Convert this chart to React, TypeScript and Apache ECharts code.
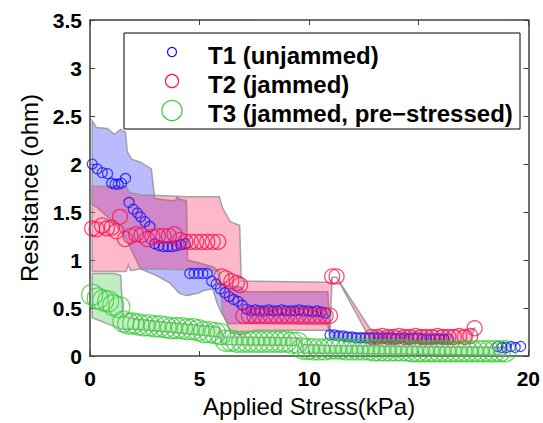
import React, { useEffect, useRef } from "react";
import * as echarts from "echarts";

// [stress kPa, resistance ohm]
const t1Points: number[][] = [
  [0.1, 2.0], [0.33, 1.95], [0.56, 1.91], [0.8, 1.9], [0.99, 1.8], [1.14, 1.79], [1.29, 1.79], [1.44, 1.8],
  [1.62, 1.85], [1.78, 1.6], [1.97, 1.53], [2.16, 1.49], [2.31, 1.45], [2.51, 1.4], [2.73, 1.35],
  [2.95, 1.17], [3.15, 1.15], [3.35, 1.14], [3.55, 1.14], [3.75, 1.14], [3.95, 1.15], [4.15, 1.16], [4.35, 1.17],
  [4.55, 0.86], [4.75, 0.86], [4.95, 0.86], [5.15, 0.86], [5.35, 0.86],
  [5.55, 0.78], [5.75, 0.75], [5.95, 0.7], [6.15, 0.66], [6.35, 0.62], [6.55, 0.59], [6.75, 0.57], [6.95, 0.53], [7.15, 0.49],
  [7.35, 0.47], [7.55, 0.48], [7.75, 0.47], [7.95, 0.47], [8.15, 0.48], [8.35, 0.47], [8.55, 0.47], [8.75, 0.48],
  [8.95, 0.47], [9.15, 0.47], [9.35, 0.47], [9.55, 0.48], [9.75, 0.47], [9.95, 0.47], [10.15, 0.46], [10.35, 0.47],
  [10.55, 0.46], [10.75, 0.45],
  [10.95, 0.22], [11.15, 0.22], [11.35, 0.21], [11.55, 0.21], [11.75, 0.2], [11.95, 0.2], [12.15, 0.19], [12.35, 0.19],
  [12.55, 0.19], [12.75, 0.19], [12.95, 0.19], [13.15, 0.19], [13.35, 0.19], [13.55, 0.19], [13.75, 0.19], [13.95, 0.18],
  [14.15, 0.19], [14.35, 0.19], [14.55, 0.18], [14.75, 0.19], [14.95, 0.19], [15.15, 0.18], [15.35, 0.18], [15.55, 0.18],
  [15.75, 0.18], [15.95, 0.18], [16.15, 0.18], [16.35, 0.18],
  [18.6, 0.1], [18.8, 0.09], [19.0, 0.09], [19.2, 0.1], [19.4, 0.09], [19.65, 0.1],
];

const t2Points: number[][] = [
  [0.1, 1.33], [0.3, 1.32], [0.55, 1.36], [0.77, 1.33], [1.0, 1.34], [1.2, 1.3], [1.37, 1.45], [1.6, 1.22],
  [1.85, 1.25], [2.1, 1.27], [2.35, 1.26], [2.6, 1.22], [2.85, 1.24], [3.1, 1.25], [3.35, 1.25], [3.6, 1.25],
  [3.85, 1.27], [4.1, 1.21], [4.35, 1.19], [4.6, 1.19], [4.85, 1.19], [5.1, 1.19], [5.35, 1.19], [5.6, 1.19], [5.85, 1.19],
  [6.0, 0.83], [6.2, 0.81], [6.45, 0.78], [6.7, 0.76], [6.85, 0.74],
  [7.0, 0.42], [7.25, 0.42], [7.5, 0.42], [7.75, 0.42], [8.0, 0.42], [8.25, 0.42], [8.5, 0.42], [8.75, 0.42],
  [9.0, 0.42], [9.25, 0.42], [9.5, 0.42], [9.75, 0.42], [10.0, 0.42], [10.25, 0.42], [10.5, 0.42], [10.75, 0.42], [10.95, 0.42],
  [11.05, 0.83], [11.25, 0.83],
  [12.85, 0.2], [13.1, 0.2], [13.35, 0.21], [13.6, 0.2], [13.85, 0.2], [14.1, 0.21], [14.35, 0.2], [14.6, 0.2],
  [14.85, 0.21], [15.1, 0.2], [15.35, 0.2], [15.6, 0.2], [15.85, 0.21], [16.1, 0.2], [16.35, 0.2], [16.6, 0.2],
  [16.85, 0.21], [17.1, 0.2], [17.35, 0.21],
  [17.55, 0.29],
];

const t3Points: number[][] = [
  [0.1, 0.64], [0.35, 0.6], [0.6, 0.58], [0.83, 0.57], [1.06, 0.53], [1.34, 0.51], [1.52, 0.36], [1.75, 0.34],
  [1.97, 0.34], [2.2, 0.33], [2.45, 0.32], [2.7, 0.32], [2.95, 0.31], [3.2, 0.31], [3.45, 0.3], [3.7, 0.29],
  [3.95, 0.29], [4.2, 0.29], [4.45, 0.28], [4.7, 0.28], [4.95, 0.27], [5.2, 0.25], [5.45, 0.25], [5.7, 0.24], [5.95, 0.23],
  [6.2, 0.16], [6.45, 0.16], [6.7, 0.15], [6.95, 0.15], [7.2, 0.15], [7.45, 0.15], [7.7, 0.15], [7.95, 0.15],
  [8.2, 0.15], [8.45, 0.15], [8.7, 0.15], [8.95, 0.15], [9.2, 0.14], [9.45, 0.14],
  [9.7, 0.08], [9.95, 0.075], [10.2, 0.07], [10.45, 0.07], [10.7, 0.07], [10.95, 0.08], [11.2, 0.08], [11.45, 0.08],
  [11.7, 0.07], [11.95, 0.07], [12.2, 0.07], [12.45, 0.07], [12.7, 0.07], [12.95, 0.06], [13.2, 0.06], [13.45, 0.06],
  [13.7, 0.06], [13.95, 0.06], [14.2, 0.06], [14.45, 0.06], [14.7, 0.05], [14.95, 0.05], [15.2, 0.05], [15.45, 0.05],
  [15.7, 0.05], [15.95, 0.05], [16.2, 0.05], [16.45, 0.05], [16.7, 0.05], [16.95, 0.05], [17.2, 0.05], [17.45, 0.05],
  [17.7, 0.05], [17.95, 0.05], [18.2, 0.05], [18.45, 0.05], [18.7, 0.05], [18.95, 0.05],
];

// [stress, upper, lower] of the shaded spread bands
const t1Band: number[][] = [
  [0.1, 2.45, 1.58], [0.3, 2.38, 1.55], [0.8, 2.37, 1.45], [1.1, 2.31, 1.38], [1.4, 2.36, 1.3], [1.62, 2.33, 1.23],
  [1.7, 2.13, 1.2], [1.9, 2.05, 1.1], [2.3, 2.02, 0.91], [2.8, 1.95, 0.86], [2.95, 1.64, 0.85], [3.65, 1.62, 0.76],
  [3.9, 1.62, 0.7], [4.0, 1.66, 0.67], [4.1, 1.63, 0.65], [4.4, 1.62, 0.63], [4.45, 1.0, 0.63], [5.0, 0.97, 0.66],
  [5.15, 0.96, 0.68], [5.6, 0.93, 0.7], [5.8, 0.9, 0.55], [6.0, 0.75, 0.45], [6.3, 0.73, 0.34], [6.9, 0.72, 0.34],
  [7.0, 0.67, 0.34], [10.85, 0.67, 0.33], [10.95, 0.25, 0.19], [12.0, 0.24, 0.17], [16.35, 0.22, 0.16],
];

const t2Band: number[][] = [
  [0.1, 1.77, 0.88], [1.65, 1.77, 0.88], [1.75, 1.72, 0.95], [1.85, 1.7, 0.89], [2.3, 1.68, 0.91], [4.4, 1.66, 0.9],
  [5.9, 1.66, 0.89], [6.05, 1.54, 0.45], [6.4, 1.4, 0.25], [6.83, 1.36, 0.22], [6.9, 0.78, 0.22], [7.5, 0.78, 0.27],
  [10.85, 0.77, 0.27], [10.95, 0.76, 0.27], [11.05, 0.82, 0.82], [11.25, 0.82, 0.82], [12.85, 0.26, 0.15],
  [17.35, 0.27, 0.15], [17.55, 0.29, 0.29],
];

const t3Band: number[][] = [
  [0.1, 0.86, 0.4], [1.1, 0.86, 0.31], [1.4, 0.84, 0.28], [1.5, 0.42, 0.28], [2.0, 0.39, 0.28], [3.6, 0.35, 0.25],
  [5.9, 0.3, 0.2], [6.1, 0.2, 0.12], [9.5, 0.19, 0.11], [9.7, 0.12, 0.03], [10.9, 0.11, 0.03], [19.0, 0.09, 0.01],
];

const legendLabels = ["T1 (unjammed)", "T2 (jammed)", "T3 (jammed, pre\u2212stressed)"];

const FONT = '"Liberation Sans", Arial, Helvetica, sans-serif';
const AXIS_COLOR = "#404040";

function bandSeries(name: string, rows: number[][], fill: string) {
  return {
    type: "custom",
    name,
    silent: true,
    clip: false,
    z: 1,
    data: rows,
    encode: { x: 0, y: [1, 2] },
    renderItem: (params: any, api: any) => {
      if (params.dataIndex !== 0) return null;
      const top = rows.map((r) => api.coord([r[0], r[1]]));
      const bot = rows.map((r) => api.coord([r[0], r[2]])).reverse();
      return {
        type: "polygon",
        shape: { points: top.concat(bot) },
        style: { fill, stroke: "rgba(150,150,150,0.85)", lineWidth: 1.5 },
      };
    },
  };
}

function scatterSeries(name: string, pts: number[][], color: string, size: number, z: number) {
  return {
    type: "scatter",
    name,
    data: pts,
    symbol: "circle",
    symbolSize: size,
    clip: false,
    z,
    itemStyle: { color: "rgba(0,0,0,0)", borderColor: color, borderWidth: 1.2 },
  };
}

export default function App() {
  const ref = useRef<HTMLDivElement>(null);
  useEffect(() => {
    if (!ref.current) return;
    const chart = echarts.init(ref.current, undefined, { renderer: "svg" });
    const axisCommon = {
      type: "value",
      splitLine: { show: false },
      axisLine: { show: true, onZero: false, lineStyle: { color: AXIS_COLOR, width: 1.5 } },
      axisTick: { show: true, inside: true, length: 5, lineStyle: { color: AXIS_COLOR, width: 1 } },
    };
    const labelStyle = { color: "#000", fontFamily: FONT, fontWeight: "bold", fontSize: 21 };
    const legendRows = [
      { y: 52, ty: 55.5, r: 4.5, color: "#1010ff" },
      { y: 81, ty: 84.5, r: 6.5, color: "#ff1050" },
      { y: 110.5, ty: 113.5, r: 10, color: "#33cc33" },
    ];
    const graphics: any[] = [
      {
        type: "rect",
        z: 100,
        shape: { x: 124, y: 33, width: 396, height: 96 },
        style: { fill: "#fff", stroke: "#000", lineWidth: 1 },
      },
    ];
    legendRows.forEach((row, i) => {
      graphics.push({
        type: "circle",
        z: 101,
        shape: { cx: 172, cy: row.y, r: row.r },
        style: { fill: "none", stroke: row.color, lineWidth: 1.2 },
      });
      graphics.push({
        type: "text",
        z: 101,
        x: 208,
        y: row.ty,
        style: {
          text: legendLabels[i],
          fill: "#000",
          font: `bold 24px ${FONT}`,
          textAlign: "left",
          textVerticalAlign: "middle",
        },
      });
    });

    chart.setOption({
      animation: false,
      backgroundColor: "#fff",
      grid: { left: 90, right: 14, top: 20, bottom: 65 },
      xAxis: [
        {
          ...axisCommon,
          min: 0,
          max: 20,
          interval: 5,
          position: "bottom",
          name: "Applied Stress(kPa)",
          nameLocation: "middle",
          nameGap: 36,
          nameTextStyle: { color: "#000", fontFamily: FONT, fontSize: 24 },
          axisLabel: { ...labelStyle, margin: 12 },
        },
        {
          ...axisCommon,
          min: 0,
          max: 20,
          interval: 5,
          position: "top",
          axisLabel: { show: false },
        },
      ],
      yAxis: [
        {
          ...axisCommon,
          min: 0,
          max: 3.5,
          interval: 0.5,
          position: "left",
          name: "Resistance (ohm)",
          nameLocation: "middle",
          nameRotate: 90,
          nameGap: 46,
          nameTextStyle: { color: "#000", fontFamily: FONT, fontSize: 24 },
          axisLabel: { ...labelStyle, margin: 8 },
        },
        {
          ...axisCommon,
          min: 0,
          max: 3.5,
          interval: 0.5,
          position: "right",
          axisLabel: { show: false },
        },
      ],
      graphic: graphics,
      series: [
        bandSeries("T1 spread", t1Band, "rgba(40,40,255,0.32)"),
        bandSeries("T2 spread", t2Band, "rgba(255,30,90,0.32)"),
        bandSeries("T3 spread", t3Band, "rgba(50,200,50,0.3)"),
        scatterSeries(legendLabels[0], t1Points, "#1010ff", 10, 3),
        scatterSeries(legendLabels[1], t2Points, "#ff1050", 15, 4),
        scatterSeries(legendLabels[2], t3Points, "#33cc33", 21, 5),
      ],
    });
    return () => chart.dispose();
  }, []);
  return (
    <div
      ref={ref}
      style={{ position: "fixed", left: 0, top: 0, width: 543, height: 423, background: "#fff" }}
    />
  );
}
